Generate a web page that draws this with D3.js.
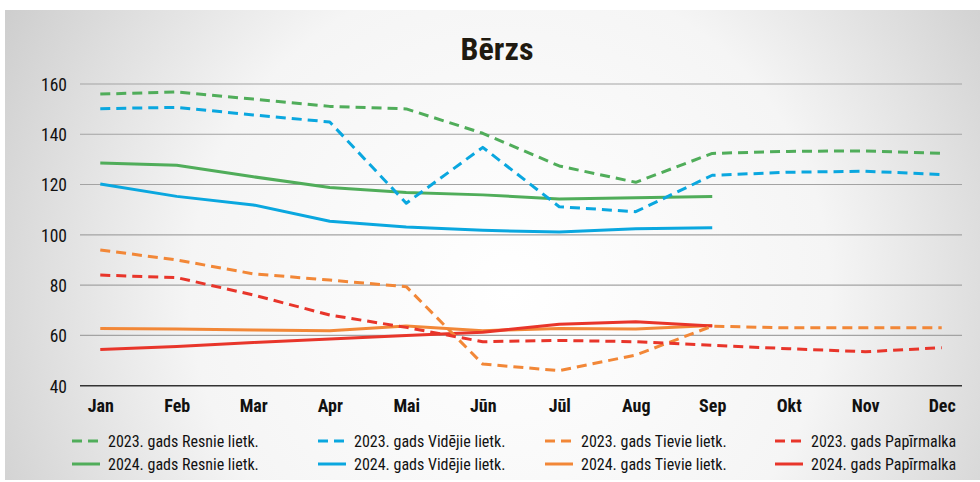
<!DOCTYPE html>
<html>
<head>
<meta charset="utf-8">
<script src="https://cdn.jsdelivr.net/npm/d3@7"></script>
<style>
  html, body { margin: 0; padding: 0; background: #fff; }
  svg { display: block; }
  .cond { font-family: "Roboto Condensed", "Liberation Sans Narrow", "Arial Narrow", "DejaVu Sans Condensed", sans-serif; font-stretch: condensed; }
</style>
</head>
<body>
<svg id="chart" width="980" height="482"></svg>
<script>
const months = ["Jan","Feb","Mar","Apr","Mai","Jūn","Jūl","Aug","Sep","Okt","Nov","Dec"];
const yTicks = [40, 60, 80, 100, 120, 140, 160];

const resnie2023    = [156.0, 156.8, 154.0, 151.1, 150.1, 140.4, 127.4, 120.9, 132.4, 133.2, 133.4, 132.4];
const vidējie2023   = [150.2, 150.7, 147.7, 144.9, 112.6, 134.8, 111.2, 109.2, 123.7, 124.9, 125.3, 124.0];
const tievie2023    = [94.0, 90.0, 84.5, 82.0, 79.4, 48.6, 46.0, 52.2, 63.7, 63.0, 63.0, 63.0];
const papirmalka2023= [84.0, 83.0, 76.1, 68.1, 63.2, 57.5, 58.0, 57.5, 56.1, 54.7, 53.5, 55.1];

const resnie2024    = [128.6, 127.7, 123.1, 118.8, 116.8, 115.9, 114.3, 114.8, 115.3];
const vidējie2024   = [120.2, 115.3, 111.9, 105.4, 103.1, 101.8, 101.1, 102.4, 102.8];
const tievie2024    = [62.8, 62.6, 62.2, 61.9, 63.7, 61.9, 62.8, 62.6, 63.9];
const papirmalka2024= [54.4, 55.6, 57.2, 58.6, 60.0, 61.3, 64.4, 65.4, 63.7];

const colors = { resnie: "#50ad5a", vid: "#0aa7df", tiev: "#f28737", pap: "#e8352a" };

const seriesList = [
  { name: "2023. gads Resnie lietk.",   values: resnie2023,     color: colors.resnie, dashed: true },
  { name: "2023. gads Vidējie lietk.",  values: vidējie2023,    color: colors.vid,    dashed: true },
  { name: "2023. gads Tievie lietk.",   values: tievie2023,     color: colors.tiev,   dashed: true },
  { name: "2023. gads Papīrmalka",      values: papirmalka2023, color: colors.pap,    dashed: true },
  { name: "2024. gads Resnie lietk.",   values: resnie2024,     color: colors.resnie, dashed: false },
  { name: "2024. gads Vidējie lietk.",  values: vidējie2024,    color: colors.vid,    dashed: false },
  { name: "2024. gads Tievie lietk.",   values: tievie2024,     color: colors.tiev,   dashed: false },
  { name: "2024. gads Papīrmalka",      values: papirmalka2024, color: colors.pap,    dashed: false }
];

const svg = d3.select("#chart");

// background panel with radial gradient
const defs = svg.append("defs");
const grad = defs.append("radialGradient").attr("id", "bg")
  .attr("gradientUnits", "userSpaceOnUse")
  .attr("cx", 510).attr("cy", 290).attr("r", 640);
grad.append("stop").attr("offset", "0").attr("stop-color", "#ffffff");
grad.append("stop").attr("offset", "0.5").attr("stop-color", "#f5f5f5");
grad.append("stop").attr("offset", "1").attr("stop-color", "#c4c4c4");
svg.append("rect").attr("x", 5).attr("y", 10).attr("width", 975).attr("height", 470).attr("fill", "url(#bg)");

const x = d3.scalePoint().domain(months).range([80, 962]).padding(0.265);
const y = d3.scaleLinear().domain([40, 160]).range([385.7, 84]);

// gridlines
const gy = svg.append("g");
gy.selectAll("line").data(yTicks.filter(d => d !== 40)).join("line")
  .attr("x1", 80).attr("x2", 962)
  .attr("y1", d => y(d)).attr("y2", d => y(d))
  .attr("stroke", "#a3a3a3").attr("stroke-width", 1.1);

// y axis labels
const yAxis = d3.axisLeft(y).tickValues(yTicks).tickSize(0).tickPadding(0);
const yg = svg.append("g").attr("transform", "translate(67,0)").call(yAxis);
yg.select(".domain").remove();
yg.selectAll("text").attr("class", "cond").attr("font-size", 17.5).attr("fill", "#111").attr("dy", "0.36em");

// x axis
const xAxis = d3.axisBottom(x).tickSize(0).tickPadding(0);
const xg = svg.append("g").attr("transform", `translate(0,${y(40)})`).call(xAxis);
xg.select(".domain").remove();
xg.selectAll("text").attr("class", "cond").attr("font-size", 18).attr("font-weight", "bold")
  .attr("fill", "#111").attr("dy", 0).attr("y", 26);
svg.append("line").attr("x1", 80).attr("x2", 962).attr("y1", y(40)).attr("y2", y(40))
  .attr("stroke", "#333").attr("stroke-width", 1.6);

// lines
const line = d3.line().x((d, i) => x(months[i])).y(d => y(d));
const order = [4,5,6,7,0,1,2,3];
svg.append("g").selectAll("path").data(order.map(i => seriesList[i])).join("path")
  .attr("d", d => line(d.values))
  .attr("fill", "none")
  .attr("stroke", d => d.color)
  .attr("stroke-width", 3)
  .attr("stroke-linejoin", "round")
  .attr("stroke-dasharray", d => d.dashed ? "10,6" : null);

// title
svg.append("text").attr("class", "cond").attr("x", 497).attr("y", 60)
  .attr("text-anchor", "middle").attr("font-size", 32).attr("font-weight", "bold")
  .attr("fill", "#1f1a10").text("Bērzs");

// legend
const colX = [72, 318, 545, 775];
const rowY = [441, 464];
const leg = svg.append("g");
seriesList.forEach((s, i) => {
  const c = i % 4, r = Math.floor(i / 4);
  const g = leg.append("g").attr("transform", `translate(${colX[c]},${rowY[r]})`);
  g.append("line").attr("x1", 0).attr("x2", 28).attr("y1", 0).attr("y2", 0)
    .attr("stroke", s.color).attr("stroke-width", 3)
    .attr("stroke-dasharray", s.dashed ? "10,6" : null);
  g.append("text").attr("class", "cond").attr("x", 36).attr("y", 0).attr("dy", "0.35em")
    .attr("font-size", 16).attr("fill", "#111").text(s.name);
});
</script>
</body>
</html>
